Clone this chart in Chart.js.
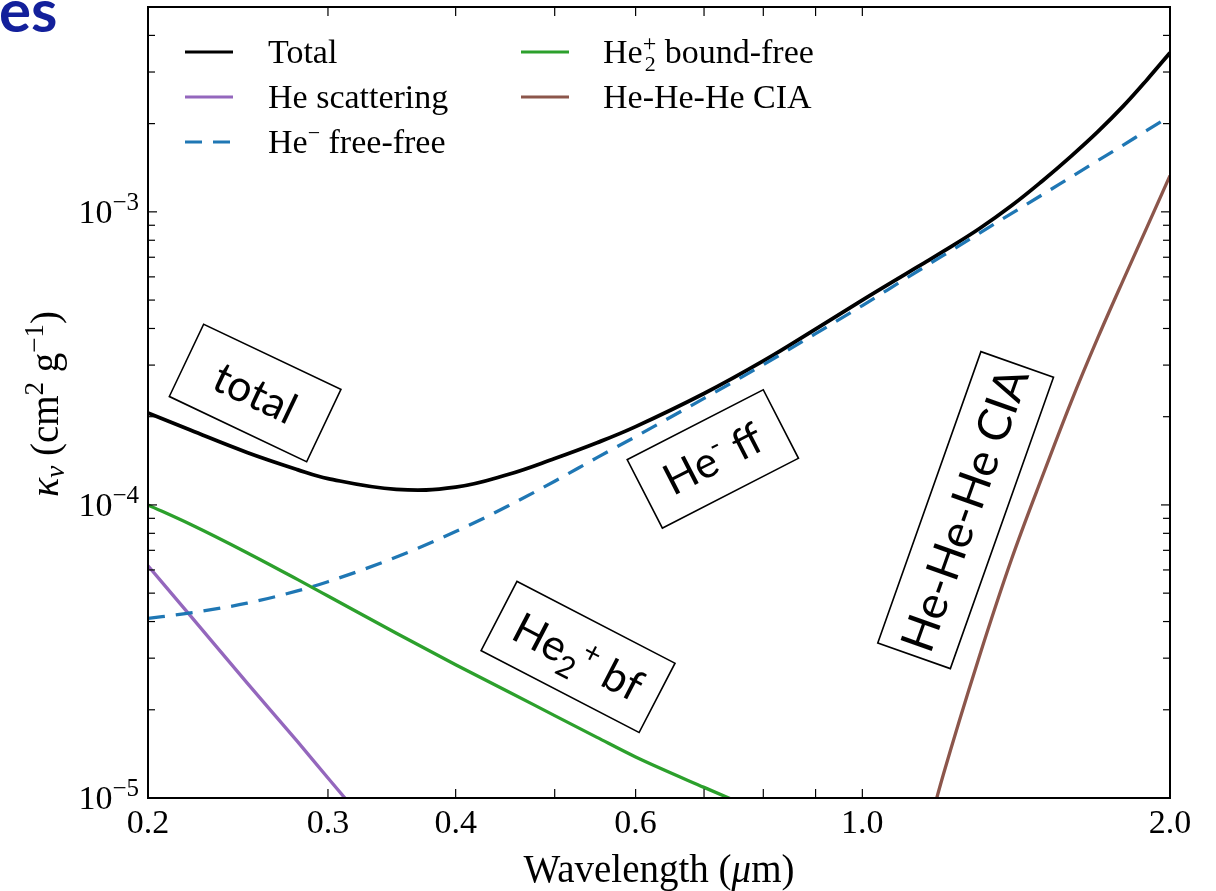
<!DOCTYPE html>
<html>
<head>
<meta charset="utf-8">
<title>Helium opacity</title>
<script src="https://cdn.jsdelivr.net/npm/chart.js@4.4.1/dist/chart.umd.min.js"></script>
<style>
  html,body{margin:0;padding:0;background:#fff;}
  #wrap{position:relative;width:1216px;height:891px;}
</style>
</head>
<body>
<div id="wrap"><canvas id="opacityChart"></canvas></div>
<script>
// wavelength grid (micron) and the curves (cm^2/g)
const wavelength = [0.2, 0.22, 0.25, 0.28, 0.3, 0.35, 0.4, 0.45, 0.5, 0.55, 0.6, 0.7, 0.8, 0.9, 1.0, 1.1, 1.15, 1.2, 1.3, 1.4, 1.5, 1.6, 1.7, 1.8, 1.9, 2.0];
const totalKappa = [2.06e-4, 1.80e-4, 1.51e-4, 1.32e-4, 1.23e-4, 1.13e-4, 1.15e-4, 1.27e-4, 1.44e-4, 1.63e-4, 1.85e-4, 2.40e-4, 3.10e-4, 3.98e-4, 5.0e-4, 6.11e-4, 6.70e-4, 7.33e-4, 8.74e-4, 1.051e-3, 1.275e-3, 1.547e-3, 1.878e-3, 2.294e-3, 2.83e-3, 3.49e-3];
const heScattering = [6.2e-5, 4.19e-5, 2.47e-5, 1.56e-5, 1.17e-5, 6.2e-6, null, null, null, null, null, null, null, null, null, null, null, null, null, null, null, null, null, null, null, null];
const heMinusFF = [4.1e-5, 4.28e-5, 4.62e-5, 5.09e-5, 5.47e-5, 6.64e-5, 8.11e-5, 9.91e-5, 1.205e-4, 1.45e-4, 1.71e-4, 2.31e-4, 3.01e-4, 3.84e-4, 4.79e-4, 5.89e-4, 6.48e-4, 7.10e-4, 8.43e-4, 9.88e-4, 1.144e-3, 1.314e-3, 1.496e-3, 1.69e-3, 1.90e-3, 2.12e-3];
const he2BF = [1.0e-4, 8.59e-5, 6.87e-5, 5.57e-5, 4.89e-5, 3.65e-5, 2.85e-5, 2.31e-5, 1.91e-5, 1.61e-5, 1.38e-5, 1.087e-5, 8.9e-6, null, null, null, null, null, null, null, null, null, null, null, null, null];
const heCIA = [null, null, null, null, null, null, null, null, null, null, null, null, null, null, null, null, 7.0e-6, 1.2e-5, 3.0e-5, 6.55e-5, 1.25e-4, 2.24e-4, 3.72e-4, 5.85e-4, 8.9e-4, 1.33e-3];

const xTickValues = [0.2, 0.3, 0.4, 0.5, 0.6, 0.7, 0.8, 0.9, 1.0, 2.0];
const xTickLabels = ['0.2', '0.3', '0.4', '', '0.6', '', '', '', '1.0', '2.0'];
const yDecades = [-5, -4, -3];
const yTickLabels = ['−5', '−4', '−3'];

const X_MIN = 0.2, X_MAX = 2.0, Y_MIN = 1e-5, Y_MAX = 5e-3;

const SERIF = '"Liberation Serif", "Times New Roman", serif';
const SANS = 'Lato, "Open Sans", sans-serif';

const pts = (ys)=> wavelength.map((w,i)=>({x:w, y:ys[i]})).filter(p=>p.y !== null);

// draw a row of text runs (for super/subscripts); adv:false keeps the pen in place (stacked sub/sup)
const drawRuns = (ctx, parts, x, y, align)=>{
  let w = 0;
  parts.forEach(p=>{
    ctx.font = (p.it ? 'italic ' : '') + (p.s || 34) + 'px ' + (p.f || SERIF);
    p.w = ctx.measureText(p.t).width;
    if(p.adv !== false) w += p.w;
  });
  let cx = align === 'center' ? x - w/2 : (align === 'right' ? x - w : x);
  parts.forEach(p=>{
    ctx.font = (p.it ? 'italic ' : '') + (p.s || 34) + 'px ' + (p.f || SERIF);
    ctx.fillText(p.t, cx + (p.dx || 0), y + (p.dy || 0));
    if(p.adv !== false) cx += p.w;
  });
};

const legendItems = [
  {col:0, row:0, color:'#000000', dash:[], parts:[{t:'Total'}]},
  {col:0, row:1, color:'#9467bd', dash:[], parts:[{t:'He scattering'}]},
  {col:0, row:2, color:'#1f77b4', dash:[17,11], parts:[{t:'He'},{t:'−', s:22, dy:-13},{t:' free-free'}]},
  {col:1, row:0, color:'#2ca02c', dash:[], parts:[{t:'He'},{t:'2', s:22, dy:8, dx:2, adv:false},{t:'+', s:24, dy:-12},{t:' bound-free'}]},
  {col:1, row:1, color:'#8c564b', dash:[], parts:[{t:'He-He-He CIA'}]}
];

// boxed annotations: centre in data coords, angle in degrees
const notes = [
  {x:0.2546, y:2.41e-4, ang:25.4, w:152, h:80, parts:[{t:'total', s:43, f:SANS}]},
  {x:0.714, y:1.435e-4, ang:-27.2, w:153, h:77, parts:[{t:'He', s:43, f:SANS},{t:'-', s:28, dy:-17, f:SANS},{t:' ff', s:43, f:SANS}]},
  {x:0.527, y:3.03e-5, ang:27.4, w:178, h:78, parts:[{t:'He', s:43, f:SANS},{t:'2', s:30, dy:10, f:SANS},{t:'+', s:30, dy:-15, f:SANS},{t:' bf', s:43, f:SANS}]},
  {x:1.262, y:9.6e-5, ang:-70.5, w:309, h:77, parts:[{t:'He-He-He CIA', s:46, f:SANS}]}
];

const decor = {
  id:'decor',
  afterDatasetsDraw(chart){
    const {ctx, chartArea:a, scales:{x, y}} = chart;
    ctx.save();
    ctx.strokeStyle = '#000';
    ctx.fillStyle = '#000';

    // ticks (inward, all four sides)
    ctx.lineWidth = 1.2;
    const seg = (x1,y1,x2,y2)=>{ ctx.beginPath(); ctx.moveTo(x1,y1); ctx.lineTo(x2,y2); ctx.stroke(); };
    xTickValues.forEach(v=>{
      const px = x.getPixelForValue(v);
      seg(px, a.bottom, px, a.bottom - 9);
      seg(px, a.top, px, a.top + 9);
    });
    yDecades.forEach(k=>{
      for(let m=1; m<=9; m++){
        const v = m * Math.pow(10, k);
        if(v > Y_MAX * 1.0001) continue;
        const py = y.getPixelForValue(v);
        const len = m === 1 ? 9 : 7;
        seg(a.left, py, a.left + len, py);
        seg(a.right, py, a.right - len, py);
      }
    });

    // frame
    ctx.lineWidth = 2;
    ctx.strokeRect(a.left, a.top, a.right - a.left, a.bottom - a.top);

    // tick labels
    ctx.textBaseline = 'alphabetic';
    xTickValues.forEach((v,i)=>{
      if(!xTickLabels[i]) return;
      drawRuns(ctx, [{t:xTickLabels[i], s:34}], x.getPixelForValue(v), 833, 'center');
    });
    yDecades.forEach((k,i)=>{
      const py = y.getPixelForValue(Math.pow(10, k));
      drawRuns(ctx, [{t:'10', s:34},{t:yTickLabels[i], s:25, dy:-13}], 139, py + 11, 'right');
    });

    // axis titles
    drawRuns(ctx, [{t:'Wavelength (', s:39},{t:'μ', s:39, it:true},{t:'m)', s:39}], (a.left + a.right)/2, 882, 'center');
    ctx.save();
    ctx.translate(58, 404);
    ctx.rotate(-Math.PI/2);
    drawRuns(ctx, [{t:'κ', s:40, it:true},{t:'ν', s:27, it:true, dy:6},{t:' (cm', s:39},{t:'2', s:27, dy:-15},{t:' g', s:39},{t:'−1', s:27, dy:-15},{t:')', s:39}], 0, 0, 'center');
    ctx.restore();

    // legend
    const colLine = [185, 521], colText = [268, 603], rowY = [52, 97, 142];
    legendItems.forEach(it=>{
      const ly = rowY[it.row];
      ctx.save();
      ctx.strokeStyle = it.color;
      ctx.lineWidth = 3.2;
      ctx.setLineDash(it.dash);
      seg(colLine[it.col], ly, colLine[it.col] + 48, ly);
      ctx.restore();
      drawRuns(ctx, it.parts.map(p=>Object.assign({}, p)), colText[it.col], ly + 11, 'left');
    });

    // boxed annotations
    notes.forEach(n=>{
      const cx = x.getPixelForValue(n.x), cy = y.getPixelForValue(n.y);
      ctx.save();
      ctx.translate(cx, cy);
      ctx.rotate(n.ang * Math.PI / 180);
      ctx.fillStyle = '#fff';
      ctx.fillRect(-n.w/2, -n.h/2, n.w, n.h);
      ctx.strokeStyle = '#000';
      ctx.lineWidth = 1.6;
      ctx.strokeRect(-n.w/2, -n.h/2, n.w, n.h);
      ctx.fillStyle = '#000';
      drawRuns(ctx, n.parts.map(p=>Object.assign({}, p)), 0, 15, 'center');
      ctx.restore();
    });

    // slide title fragment
    ctx.fillStyle = '#13209b';
    ctx.font = 'bold 60px ' + SANS;
    ctx.fillText('es', -1, 32);

    ctx.restore();
  }
};

const line = (label, ys, color, width, dash, order, smooth)=>({
  label, data: pts(ys), borderColor: color, borderWidth: width, borderDash: dash,
  pointRadius: 0, fill: false, order,
  cubicInterpolationMode: smooth ? 'default' : 'monotone', tension: smooth ? 0.4 : 0
});

new Chart(document.getElementById('opacityChart'), {
  type: 'line',
  data: {
    datasets: [
      line('Total', totalKappa, '#000000', 3.8, [], 5, true),
      line('He scattering', heScattering, '#9467bd', 3.3, [], 4),
      line('He- free-free', heMinusFF, '#1f77b4', 3.3, [17,11], 3),
      line('He2+ bound-free', he2BF, '#2ca02c', 3.3, [], 2),
      line('He-He-He CIA', heCIA, '#8c564b', 3.3, [], 1)
    ]
  },
  options: {
    responsive: true,
    maintainAspectRatio: false,
    animation: false,
    layout: { padding: { left:148, right:46, top:7, bottom:93 } },
    plugins: { legend: { display:false }, tooltip: { enabled:false } },
    scales: {
      x: { type:'logarithmic', min:X_MIN, max:X_MAX, display:false },
      y: { type:'logarithmic', min:Y_MIN, max:Y_MAX, display:false }
    }
  },
  plugins: [decor]
});
</script>
</body>
</html>
